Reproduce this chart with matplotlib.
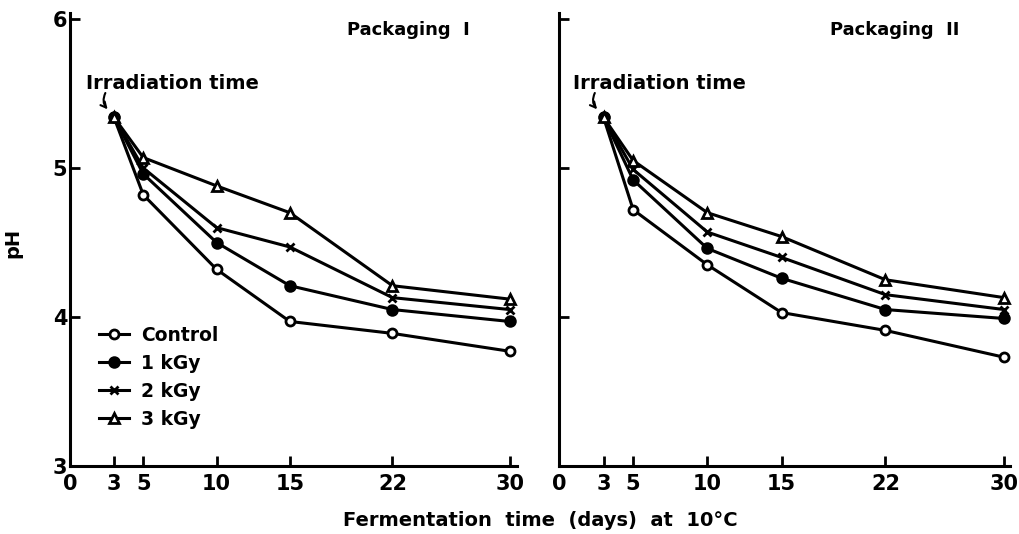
import matplotlib
matplotlib.use("Agg")
import matplotlib.pyplot as plt

days = [3, 5, 10, 15, 22, 30]
x_ticks = [0, 3, 5, 10, 15, 22, 30]
y_ticks = [3, 4, 5, 6]
series_names = ["Control", "1 kGy", "2 kGy", "3 kGy"]

# Packaging I
p1_control = [5.34, 4.82, 4.32, 3.97, 3.89, 3.77]
p1_1kgy = [5.34, 4.96, 4.50, 4.21, 4.05, 3.97]
p1_2kgy = [5.34, 5.00, 4.60, 4.47, 4.13, 4.05]
p1_3kgy = [5.34, 5.07, 4.88, 4.70, 4.21, 4.12]

# Packaging II
p2_control = [5.34, 4.72, 4.35, 4.03, 3.91, 3.73]
p2_1kgy = [5.34, 4.92, 4.46, 4.26, 4.05, 3.99]
p2_2kgy = [5.34, 4.99, 4.57, 4.40, 4.15, 4.05]
p2_3kgy = [5.34, 5.05, 4.70, 4.54, 4.25, 4.13]

panel_titles = ["Packaging  I", "Packaging  II"]
panels = [
    [p1_control, p1_1kgy, p1_2kgy, p1_3kgy],
    [p2_control, p2_1kgy, p2_2kgy, p2_3kgy],
]

styles = [
    dict(marker="o", markerfacecolor="white", markersize=6.5, markeredgewidth=2),
    dict(marker="o", markerfacecolor="black", markersize=7.5, markeredgewidth=1.5),
    dict(marker="x", markerfacecolor="black", markersize=6, markeredgewidth=2),
    dict(marker="^", markerfacecolor="white", markersize=7, markeredgewidth=2),
]

plt.rcParams["font.family"] = ["DejaVu Sans"]
plt.rcParams["font.weight"] = "bold"

fig = plt.figure(figsize=(10.2, 5.34), dpi=100)
ax1 = fig.add_axes([70 / 1020, 1 - 466 / 534, 447 / 1020, 447 / 534])
ax2 = fig.add_axes([559 / 1020, 1 - 466 / 534, 451 / 1020, 447 / 534])

for i, (ax, data) in enumerate(zip([ax1, ax2], panels)):
    for name, vals, st in zip(series_names, data, styles):
        ax.plot(days, vals, color="black", linewidth=2.2, markeredgecolor="black",
                label=name, clip_on=False, **st)
    ax.set_xlim(0, 30.5 if i == 0 else 30.4)
    ax.set_ylim(3, 6.0)
    ax.spines["top"].set_visible(False)
    ax.spines["right"].set_visible(False)
    ax.spines["left"].set_linewidth(2.2)
    ax.spines["bottom"].set_linewidth(2.2)
    ax.spines["left"].set_bounds(3, 6.04)
    ax.set_xticks(x_ticks)
    ax.set_xticklabels([str(t) for t in x_ticks], fontsize=15, fontweight="bold")
    ax.set_yticks(y_ticks)
    ax.tick_params(axis="both", direction="in", length=7, width=2, pad=6)
    if i == 0:
        ax.set_yticklabels([str(t) for t in y_ticks], fontsize=15, fontweight="bold")
        ax.tick_params(axis="y", pad=2)
    else:
        ax.set_yticklabels([])
    ax.text(0.62 if i == 0 else 0.60, 0.975, panel_titles[i], transform=ax.transAxes,
            fontsize=13, fontweight="bold", ha="left", va="center")
    ax.text(0.035 if i == 0 else 0.03, 0.856, "Irradiation time", transform=ax.transAxes,
            fontsize=14, fontweight="bold", ha="left", va="center")
    ax.annotate("", xy=(2.7, 5.38), xytext=(2.5, 5.52),
                arrowprops=dict(arrowstyle="->", color="black", lw=1.5,
                                connectionstyle="arc3,rad=0.4"))

ax1.set_ylabel("pH", fontsize=14, fontweight="bold", labelpad=22)
fig.text(540 / 1020, 1 - 521 / 534, "Fermentation  time  (days)  at  10°C",
         fontsize=14, fontweight="bold", ha="center", va="center")

leg = ax1.legend(loc="upper left", bbox_to_anchor=(0.045, 0.335), frameon=False,
                 fontsize=13.5, handlelength=1.6, handletextpad=0.6, labelspacing=0.48,
                 borderpad=0)
for t in leg.get_texts():
    t.set_fontweight("bold")

fig.savefig("out.png", dpi=100)
